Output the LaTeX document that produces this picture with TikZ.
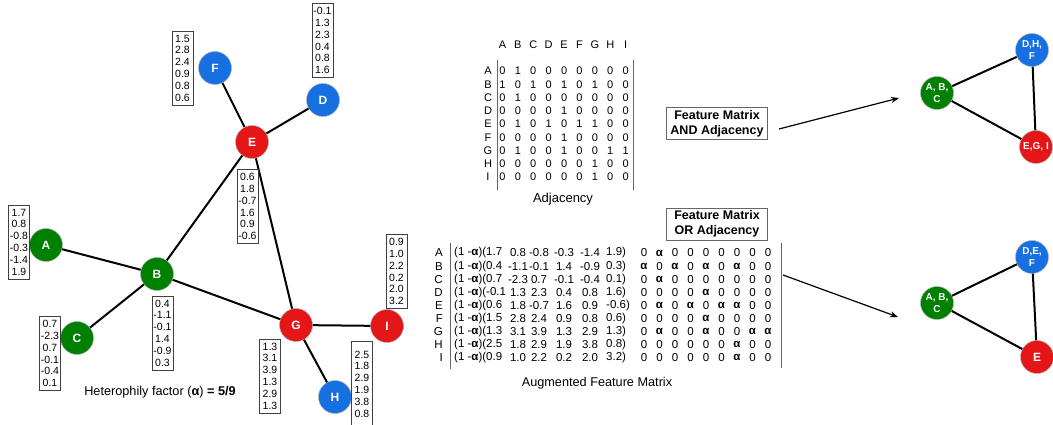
\documentclass[tikz,border=0pt]{standalone}
\usepackage{fontspec}
\setmainfont{Liberation Sans}
\usetikzlibrary{arrows.meta}
\definecolor{nodegreen}{RGB}{0,128,0}
\definecolor{nodeblue}{RGB}{22,112,226}
\definecolor{nodered}{RGB}{228,22,24}
\newcommand{\al}{\textbf{α}}

\begin{document}
\begin{tikzpicture}[x=1pt, y=-1pt,
    vertex/.style={circle, minimum size=33pt, inner sep=0pt, draw=black!30, line width=0.5pt, text=white, font=\bfseries\fontsize{12}{13}\selectfont},
    group/.style={vertex, align=center, font=\bfseries\fontsize{10}{11.5}\selectfont},
    feat/.style={draw=black!75, line width=0.6pt, minimum width=21pt, minimum height=74pt, inner sep=0pt, align=center, font=\fontsize{10.5}{11.8}\selectfont},
    edge/.style={line width=2pt},
    cell/.style={inner sep=0pt, font=\fontsize{11}{12}\selectfont},
    aug/.style={inner sep=0pt, font=\fontsize{11.5}{12}\selectfont},
    bar/.style={draw=black!60, line width=0.7pt},
    opbox/.style={draw=black!60, line width=0.8pt, minimum width=101pt, minimum height=32pt, inner sep=1pt, align=center, font=\bfseries\fontsize{12.5}{15}\selectfont},
    arr/.style={line width=1.2pt, -{Stealth[length=8pt, width=6pt]}}]
    \useasboundingbox (0,0) rectangle (1053,425);

    \node[vertex, fill=nodeblue] (F) at (215,68) {F};
    \node[vertex, fill=nodeblue] (D) at (323,100) {D};
    \node[vertex, fill=nodered] (E) at (252,142) {E};
    \node[vertex, fill=nodegreen] (A) at (46,245) {A};
    \node[vertex, fill=nodegreen] (B) at (157,274) {B};
    \node[vertex, fill=nodegreen] (C) at (77,338) {C};
    \node[vertex, fill=nodered] (G) at (296,325) {G};
    \node[vertex, fill=nodered] (I) at (387,326) {I};
    \node[vertex, fill=nodeblue] (H) at (335,397) {H};
    \foreach \u/\v in {F/E, D/E, E/B, E/G, A/B, C/B, B/G, G/I, G/H}
        \draw[edge] (\u) -- (\v);

    \foreach \n/\x/\y/\vals in {F/182.5/68/{1.5\\2.8\\2.4\\0.9\\0.8\\0.6},
        D/322.5/40.5/{-0.1\\1.3\\2.3\\0.4\\0.8\\1.6},
        E/247.5/206.5/{0.6\\1.8\\-0.7\\1.6\\0.9\\-0.6},
        A/19/242/{1.7\\0.8\\-0.8\\-0.3\\-1.4\\1.9},
        B/162.5/333/{0.4\\-1.1\\-0.1\\1.4\\-0.9\\0.3},
        C/50/353.5/{0.7\\-2.3\\0.7\\-0.1\\-0.4\\0.1},
        G/270/376/{1.3\\3.1\\3.9\\1.3\\2.9\\1.3},
        I/396.5/271.5/{0.9\\1.0\\2.2\\0.2\\2.0\\3.2}}
        \node[feat] (feat\n) at (\x,\y) {\vals};
    \node[feat, minimum height=86pt] (featH) at (362,384) {2.5\\1.8\\2.9\\1.9\\3.8\\0.8};

    \node[font=\fontsize{12.7}{14}\selectfont] (alpha) at (160,392)
        {Heterophily factor (\textbf{α}) \textbf{= 5/9}};

    \foreach \c [count=\j from 0] in {A,B,C,D,E,F,G,H,I}
        \node[cell] (adjh\c) at ({502.5+15.4*\j},45) {\c};
    \foreach \r/\row [count=\i from 0] in {A/{0,1,0,0,0,0,0,0,0}, B/{1,0,1,0,1,0,1,0,0},
        C/{0,1,0,0,0,0,0,0,0}, D/{0,0,0,0,1,0,0,0,0}, E/{0,1,0,1,0,1,1,0,0},
        F/{0,0,0,0,1,0,0,0,0}, G/{0,1,0,0,1,0,0,1,1}, H/{0,0,0,0,0,0,1,0,0},
        I/{0,0,0,0,0,0,1,0,0}} {
        \node[cell] (adjl\r) at (488,{71+13.25*\i}) {\r};
        \foreach \v [count=\j from 0] in \row
            \node[cell] (adj\r\j) at ({502.5+15.4*\j},{71+13.25*\i}) {\v};
    }
    \draw[bar] (497,60) -- (497,190);
    \draw[bar] (633,60) -- (633,190);
    \node[font=\fontsize{13}{15}\selectfont] (adjcap) at (563,199) {Adjacency};

    \node[opbox] (andbox) at (717,123.5) {Feature Matrix\\AND Adjacency};
    \coordinate (andfrom) at (779,129);
    \coordinate (andto) at (899,98);
    \draw[arr] (andfrom) -- (andto);

    \node[group, fill=nodegreen] (abc) at (937,93) {A, B,\\C};
    \node[group, fill=nodeblue] (dhf) at (1032,50) {D,H,\\F};
    \node[group, fill=nodered] (egi) at (1036,147) {E,G, I};
    \draw[edge] (abc) -- (dhf);
    \draw[edge] (abc) -- (egi);
    \draw[edge] (dhf) -- (egi);

    \node[opbox] (orbox) at (717,224) {Feature Matrix\\OR Adjacency};
    \foreach \r/\fa/\fb/\fc/\fd/\fe/\ff/\row [count=\i from 0] in {
        A/1.7/0.8/-0.8/-0.3/-1.4/1.9/{0,\al,0,0,0,0,0,0,0},
        B/0.4/-1.1/-0.1/1.4/-0.9/0.3/{\al,0,\al,0,\al,0,\al,0,0},
        C/0.7/-2.3/0.7/-0.1/-0.4/0.1/{0,\al,0,0,0,0,0,0,0},
        D/-0.1/1.3/2.3/0.4/0.8/1.6/{0,0,0,0,\al,0,0,0,0},
        E/0.6/1.8/-0.7/1.6/0.9/-0.6/{0,\al,0,\al,0,\al,\al,0,0},
        F/1.5/2.8/2.4/0.9/0.8/0.6/{0,0,0,0,\al,0,0,0,0},
        G/1.3/3.1/3.9/1.3/2.9/1.3/{0,\al,0,0,\al,0,0,\al,\al},
        H/2.5/1.8/2.9/1.9/3.8/0.8/{0,0,0,0,0,0,\al,0,0},
        I/0.9/1.0/2.2/0.2/2.0/3.2/{0,0,0,0,0,0,\al,0,0}} {
        \pgfmathsetmacro{\yy}{253+13.1*\i}
        \node[aug, anchor=east] (augl\r) at (443,\yy) {\r};
        \node[aug, anchor=west] (aug\r1) at (454,\yy) {(1 -\al)(\fa};
        \node[aug] (aug\r2) at (518,\yy) {\fb};
        \node[aug] (aug\r3) at (539,\yy) {\fc};
        \node[aug] (aug\r4) at (564,\yy) {\fd};
        \node[aug] (aug\r5) at (590,\yy) {\fe};
        \node[aug, anchor=west] (aug\r6) at (606,\yy) {\ff)};
        \foreach \v [count=\j from 0] in \row
            \node[aug] (aug\r a\j) at ({644+15.5*\j},\yy) {\v};
    }
    \draw[bar] (450,243) -- (450,369);
    \draw[bar] (781,243) -- (781,368);
    \node[font=\fontsize{12.7}{14}\selectfont] (augcap) at (597,383) {Augmented Feature Matrix};

    \coordinate (orfrom) at (783,275);
    \coordinate (orto) at (898,317);
    \draw[arr] (orfrom) -- (orto);

    \node[group, fill=nodegreen] (abc2) at (937,303) {A, B,\\C};
    \node[group, fill=nodeblue] (def) at (1032,257) {D,E,\\F};
    \node[vertex, fill=nodered] (e2) at (1037,357) {E};
    \draw[edge] (abc2) -- (def);
    \draw[edge] (abc2) -- (e2);
    \draw[edge] (def) -- (e2);
\end{tikzpicture}
\end{document}
